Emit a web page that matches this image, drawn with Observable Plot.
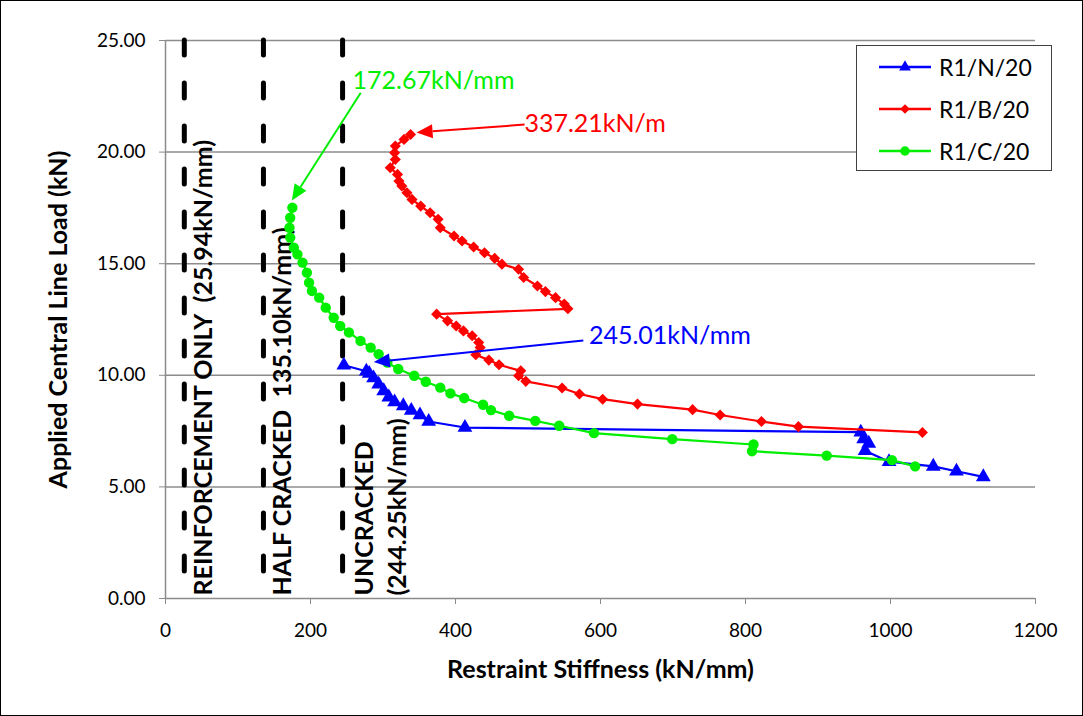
<!DOCTYPE html>
<html>
<head>
<meta charset="utf-8">
<script src="https://cdn.jsdelivr.net/npm/d3@7"></script>
<script src="https://cdn.jsdelivr.net/npm/@observablehq/plot@0.6"></script>
<style>
  body { margin: 0; background: #fff; }
  #wrap { position: relative; width: 1083px; height: 716px; font-family: Lato, "Open Sans", sans-serif; background: #fff; }
  #frame { position: absolute; left: 0; top: 0; width: 1083px; height: 716px; box-sizing: border-box; border: 1px solid #000; pointer-events: none; }
  #legend { position: absolute; left: 856px; top: 45px; width: 196px; height: 126px; box-sizing: border-box; border: 1.5px solid #404040; background: #fff; }
  .lrow { position: absolute; left: 20px; height: 30px; display: flex; align-items: center; font-size: 23px; color: #000; }
  .lrow svg { margin-right: 6px; }
</style>
</head>
<body>
<div id="wrap"></div>
<script>
// ---------- data ----------
const seriesNames = ["R1/N/20", "R1/B/20", "R1/C/20"];
const seriesColors = ["#0000ff", "#ff0000", "#00ee00"];
const seriesSymbols = ["triangle", "diamond2", "circle"];

// R1/N/20 (blue): restraint stiffness (kN/mm), applied load (kN)
const nStiff = [1128, 1091, 1059, 998, 965, 970, 963, 959, 413, 363, 351, 339, 328, 316, 308, 301, 294, 287, 281, 277, 246];
const nLoad  = [5.45, 5.70, 5.92, 6.13, 6.62, 6.95, 7.15, 7.45, 7.66, 7.93, 8.22, 8.42, 8.63, 8.80, 9.02, 9.30, 9.60, 9.88, 10.08, 10.18, 10.45];

// R1/B/20 (red)
const bStiff = [1044, 873, 822, 765, 727, 651, 603, 571, 547, 497, 487, 490, 460, 446, 428, 434, 432, 423, 411, 401, 389, 374,
                555, 550, 538, 524, 513, 494, 487, 464, 454, 440, 425, 409, 398, 379, 376, 365, 352, 340, 333, 326, 322, 320, 310, 317, 316, 317, 329, 338];
const bLoad  = [7.44, 7.70, 7.93, 8.22, 8.46, 8.71, 8.93, 9.16, 9.43, 9.73, 9.98, 10.20, 10.47, 10.68, 10.92, 11.24, 11.47, 11.77, 11.99, 12.21, 12.44, 12.74,
                12.98, 13.19, 13.48, 13.75, 14.00, 14.38, 14.75, 14.98, 15.24, 15.49, 15.75, 16.02, 16.24, 16.61, 16.99, 17.28, 17.58, 17.88, 18.18, 18.48, 18.70, 19.00, 19.30, 19.67, 19.97, 20.27, 20.57, 20.79];

// R1/C/20 (green)
const cStiff = [1034, 1002, 912, 809, 811, 699, 591, 543, 510, 474, 449, 438, 412, 393, 379, 359, 343, 321, 306, 294, 283, 269, 253, 241, 232, 221, 212, 202, 198, 195, 189, 182, 177, 172, 171, 172, 175];
const cLoad  = [5.92, 6.20, 6.40, 6.60, 6.90, 7.14, 7.41, 7.74, 7.96, 8.19, 8.44, 8.68, 8.98, 9.19, 9.45, 9.71, 9.98, 10.28, 10.57, 10.95, 11.24, 11.54, 11.92, 12.21, 12.58, 13.03, 13.48, 13.78, 14.15, 14.60, 15.05, 15.42, 15.72, 16.17, 16.61, 17.06, 17.51];

// reference stiffness lines
const refStiff = [25.94, 135.10, 244.25];
const refLabels = ["REINFORCEMENT ONLY  (25.94kN/mm)", "HALF CRACKED  135.10kN/mm)", "UNCRACKED\n(244.25kN/mm)"];

// annotations
const annLabels = ["172.67kN/mm", "337.21kN/m", "245.01kN/mm"];
const annColors = ["#00ee00", "#ff0000", "#0000ff"];
const annTextX = [258, 495, 584];
const annTextY = [23.18, 21.25, 11.77];
const annFromX = [270, 496, 577];
const annFromY = [22.64, 21.21, 11.54];
const annTipX  = [175, 347, 288];
const annTipY  = [17.81, 20.86, 10.57];

// axes
const xTicks = [0, 200, 400, 600, 800, 1000, 1200];
const yTicks = [0, 5, 10, 15, 20, 25];
const xTitle = "Restraint Stiffness (kN/mm)";
const yTitle = "Applied Central Line Load (kN)";

// ---------- build ----------
const seriesData = [[nStiff, nLoad], [bStiff, bLoad], [cStiff, cLoad]].map(([xs, ys], s) =>
  xs.map((x, i) => ({series: seriesNames[s], x, y: ys[i]})));

const grid = "#8c8c8c";

function arrows(index, scales) {
  const g = d3.create("svg:g");
  annLabels.forEach((_, i) => {
    const x1 = scales.x(annFromX[i]), y1 = scales.y(annFromY[i]);
    const x2 = scales.x(annTipX[i]), y2 = scales.y(annTipY[i]);
    const a = Math.atan2(y2 - y1, x2 - x1);
    const L = 16, W = 7;
    const bx = x2 - L * Math.cos(a), by = y2 - L * Math.sin(a);
    g.append("line").attr("x1", x1).attr("y1", y1).attr("x2", bx).attr("y2", by)
      .attr("stroke", annColors[i]).attr("stroke-width", 2);
    g.append("path")
      .attr("d", `M${x2},${y2}L${bx + W * Math.sin(a)},${by - W * Math.cos(a)}L${bx - W * Math.sin(a)},${by + W * Math.cos(a)}Z`)
      .attr("fill", annColors[i]);
  });
  return g.node();
}

const marks = [
  Plot.ruleY(yTicks.filter(d => d > 0), {stroke: grid, strokeWidth: 1.5}),
  Plot.ruleY([0], {stroke: grid, strokeWidth: 1.5}),
  Plot.ruleX([0], {stroke: grid, strokeWidth: 1.5}),
  Plot.axisX({ticks: xTicks, tickSize: 6, tickPadding: 19, fontSize: 19, stroke: grid, label: null, tickFormat: d => String(d)}),
  Plot.axisY({ticks: yTicks, tickSize: 6, tickPadding: 14, fontSize: 19, stroke: grid, label: null, tickFormat: d => d.toFixed(2)}),
  Plot.ruleX(refStiff, {stroke: "#000", strokeWidth: 5, strokeDasharray: "15,28", strokeLinecap: "round"}),
  Plot.text(refLabels.slice(0, 2), {x: (d, i) => refStiff[i], y: 0, dx: 20, dy: -3, rotate: -90, textAnchor: "start", lineAnchor: "middle", fontSize: 25, fontWeight: "bold", fill: "#000"}),
  Plot.text([refLabels[2]], {x: refStiff[2], y: 0, dx: 36, dy: -3, rotate: -90, textAnchor: "start", lineAnchor: "middle", lineHeight: 1.35, fontSize: 25, fontWeight: "bold", fill: "#000"})
];
seriesData.forEach((rows, s) => {
  marks.push(Plot.line(rows, {x: "x", y: "y", stroke: seriesColors[s], strokeWidth: 2.2}));
  marks.push(Plot.dot(rows, {x: "x", y: "y", symbol: seriesSymbols[s], fill: seriesColors[s], stroke: "none", r: s === 2 ? 5.2 : (s === 0 ? 5.5 : 5)}));
});
marks.push(arrows);
annLabels.forEach((t, i) => {
  marks.push(Plot.text([t], {x: annTextX[i], y: annTextY[i], text: d => d, textAnchor: "start", fontSize: 25, fill: annColors[i]}));
});
marks.push(Plot.text([yTitle], {frameAnchor: "left", rotate: -90, dx: -107, textAnchor: "middle", fontSize: 25, fontWeight: "bold", fill: "#000"}));
marks.push(Plot.text([xTitle], {frameAnchor: "bottom", dy: 79, textAnchor: "middle", fontSize: 25, fontWeight: "bold", fill: "#000"}));

const chart = Plot.plot({
  width: 1083, height: 716,
  marginLeft: 165, marginRight: 48, marginTop: 40, marginBottom: 118,
  style: {fontFamily: "Lato, 'Open Sans', sans-serif", background: "#fff", color: "#000", overflow: "visible"},
  x: {domain: [0, 1200]},
  y: {domain: [0, 25]},
  marks
});

const wrap = document.getElementById("wrap");
wrap.appendChild(chart);

// legend
const legend = document.createElement("div");
legend.id = "legend";
const rowTops = [6, 48, 90];
seriesNames.forEach((name, s) => {
  const row = document.createElement("div");
  row.className = "lrow";
  row.style.top = rowTops[s] + "px";
  const sym = d3.symbol(s === 0 ? d3.symbolTriangle : s === 1 ? d3.symbolDiamond2 : d3.symbolCircle, s === 2 ? 70 : 60)();
  row.innerHTML = `<svg width="56" height="20"><line x1="2" x2="54" y1="10" y2="10" stroke="${seriesColors[s]}" stroke-width="2.5"/><path transform="translate(28,10)" d="${sym}" fill="${seriesColors[s]}"/></svg><span>${name}</span>`;
  legend.appendChild(row);
});
wrap.appendChild(legend);
const frame = document.createElement("div");
frame.id = "frame";
wrap.appendChild(frame);
</script>
</body>
</html>
